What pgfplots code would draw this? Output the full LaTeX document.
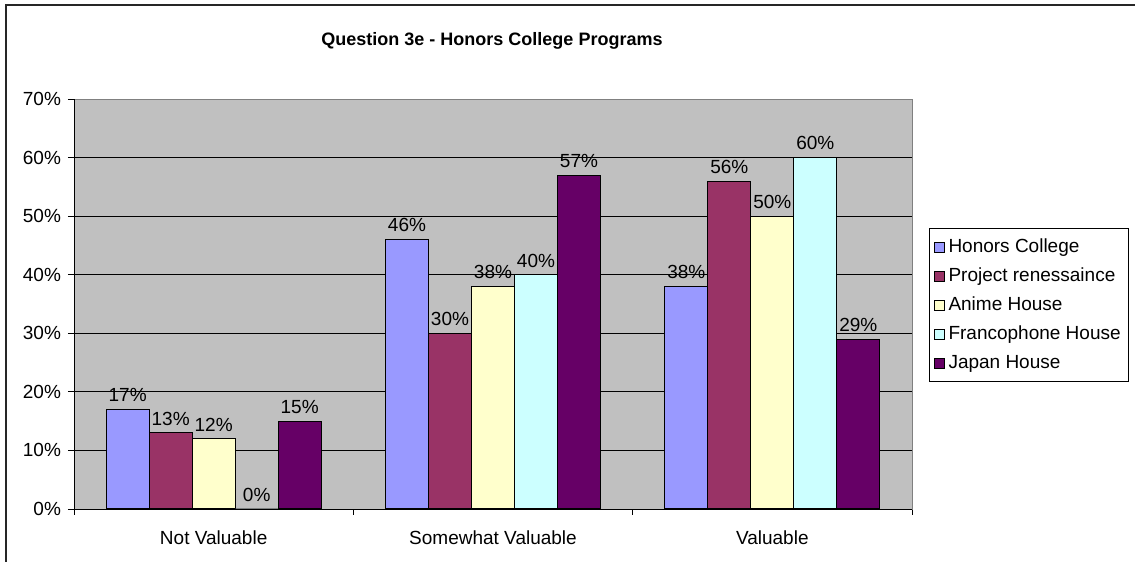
\documentclass[border=0pt]{standalone}
\usepackage{pgfplots}
\pgfplotsset{compat=1.18}
\usepackage{fontspec}
\setmainfont{Liberation Sans}

\definecolor{honors}{HTML}{9999FF}
\definecolor{project}{HTML}{993366}
\definecolor{anime}{HTML}{FFFFCC}
\definecolor{franco}{HTML}{CCFFFF}
\definecolor{japan}{HTML}{660066}
\definecolor{plotbg}{HTML}{C0C0C0}

\begin{document}
\begin{tikzpicture}[font=\fontsize{9.5}{11}\selectfont]
% 1 px = 0.5 pt, origin at bottom-left of the 1135x562 picture
\useasboundingbox (0,0) rectangle (567.5pt,281pt);
\draw[line width=0.6pt,black!85] (3pt,0pt) -- (3pt,278.5pt) -- (600pt,278.5pt);
\node[font=\fontsize{9}{11}\selectfont\bfseries] at (246pt,260.5pt) {Question 3e - Honors College Programs};
\begin{axis}[
    at={(37pt,26.5pt)}, anchor=south west,
    scale only axis,
    width=419pt, height=205pt,
    ybar=0pt, bar width=21.5pt,
    xmin=-0.5, xmax=2.5,
    ymin=0, ymax=70,
    xtick={0,1,2},
    xticklabels={Not Valuable, Somewhat Valuable, Valuable},
    major x tick style={draw=none},
    minor xtick={-0.5,0.5,1.5,2.5},
    minor x tick style={black,thin},
    xtick pos=bottom, ytick pos=left,
    xticklabel style={yshift=-4.5pt},
    ytick={0,10,...,70},
    yticklabel={\pgfmathprintnumber{\tick}\%},
    /pgf/number format/assume math mode=true,
    tick align=outside,
    major tick length=3pt, minor tick length=3pt,
    ytick style={black,thin},
    axis background/.style={fill=plotbg},
    axis line style={black!50, thin},
    ymajorgrids, major grid style={black, thin},
    nodes near coords={\pgfmathprintnumber{\pgfplotspointmeta}\%},
    nodes near coords style={font=\fontsize{9.5}{11}\selectfont, inner sep=3.5pt},
    every axis plot/.append style={draw=black, line width=0.5pt},
    legend cell align=left,
    legend style={at={(1.0203,0.685)}, anchor=north west, draw=black, line width=0.5pt,
      font=\fontsize{9.5}{11}\selectfont, row sep=2.2pt, inner xsep=2pt, inner ysep=3pt},
    legend image code/.code={\draw[#1,draw=black,line width=0.5pt] (0pt,-2.5pt) rectangle (5pt,2.5pt);},
    clip=false,
]
\addplot[fill=honors] coordinates {(0,17) (1,46) (2,38)};
\addlegendentry{Honors College}
\addplot[fill=project] coordinates {(0,13) (1,30) (2,56)};
\addlegendentry{Project renessaince}
\addplot[fill=anime] coordinates {(0,12) (1,38) (2,50)};
\addlegendentry{Anime House}
\addplot[fill=franco] coordinates {(0,0) (1,40) (2,60)};
\addlegendentry{Francophone House}
\addplot[fill=japan] coordinates {(0,15) (1,57) (2,29)};
\addlegendentry{Japan House}
\draw[black, thin] (rel axis cs:0,1) -- (rel axis cs:0,0) -- (rel axis cs:1,0);
\end{axis}
\end{tikzpicture}
\end{document}
